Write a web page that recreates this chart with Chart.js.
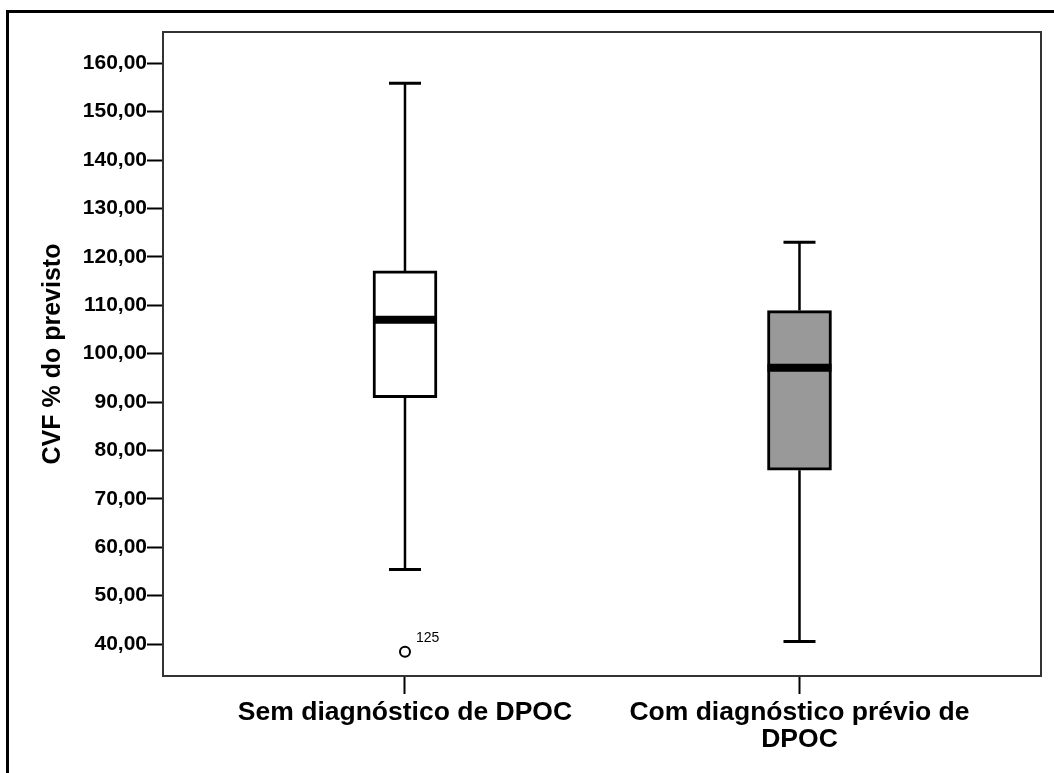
<!DOCTYPE html>
<html>
<head>
<meta charset="utf-8">
<script src="https://cdn.jsdelivr.net/npm/chart.js@4/dist/chart.umd.min.js"></script>
<style>
  html, body { margin: 0; padding: 0; background: #ffffff; }
  #wrap { width: 1054px; height: 773px; position: relative; background: #ffffff; }
</style>
</head>
<body>
<div id="wrap"><canvas id="c"></canvas></div>
<script>
// ---- Data ----
const categories = ['Sem diagnóstico de DPOC', ['Com diagnóstico prévio de', 'DPOC']];
const whiskerLow  = [55.4, 40.5];
const q1          = [90.9, 75.9];
const median      = [107.0, 97.1];
const q3          = [117.1, 108.9];
const whiskerHigh = [155.9, 123.0];
const boxColors   = ['#ffffff', '#999999'];
const outlierGroup = [0];
const outlierValue = [38.4];
const outlierId    = ['125'];
const yTickStep = 10;
const yTickMin = 40;
const yTickMax = 160;

const FONT = "'Liberation Sans', Arial, sans-serif";

const boxData = categories.map((c, i) => ({ x: i, y: [q1[i], q3[i]] }));
const outlierData = outlierGroup.map((g, i) => ({ x: g, y: outlierValue[i] }));

const boxPlugin = {
  id: 'boxParts',
  afterDatasetsDraw(chart) {
    const ctx = chart.ctx;
    const xs = chart.scales.x, ys = chart.scales.y;
    ctx.save();
    ctx.strokeStyle = '#000';
    categories.forEach((c, i) => {
      const x = xs.getPixelForValue(i);
      const yHi = ys.getPixelForValue(whiskerHigh[i]);
      const yLo = ys.getPixelForValue(whiskerLow[i]);
      const yQ1 = ys.getPixelForValue(q1[i]);
      const yQ3 = ys.getPixelForValue(q3[i]);
      const yMed = ys.getPixelForValue(median[i]);
      // whisker stems
      ctx.lineWidth = 2.5;
      ctx.beginPath();
      ctx.moveTo(x, yQ3); ctx.lineTo(x, yHi);
      ctx.moveTo(x, yQ1); ctx.lineTo(x, yLo);
      ctx.stroke();
      // caps
      ctx.lineWidth = 3;
      ctx.beginPath();
      ctx.moveTo(x - 16, yHi); ctx.lineTo(x + 16, yHi);
      ctx.moveTo(x - 16, yLo); ctx.lineTo(x + 16, yLo);
      ctx.stroke();
      // median
      ctx.lineWidth = 8;
      ctx.beginPath();
      ctx.moveTo(x - 32, yMed); ctx.lineTo(x + 32, yMed);
      ctx.stroke();
    });
    // outlier labels
    ctx.fillStyle = '#000';
    ctx.font = '14px ' + FONT;
    ctx.textAlign = 'left';
    ctx.textBaseline = 'alphabetic';
    outlierGroup.forEach((g, i) => {
      const x = xs.getPixelForValue(g);
      const y = ys.getPixelForValue(outlierValue[i]);
      ctx.fillText(outlierId[i], x + 11, y - 10);
    });
    ctx.restore();
  },
  afterDraw(chart) {
    const ctx = chart.ctx;
    const a = chart.chartArea;
    ctx.save();
    ctx.strokeStyle = '#333';
    ctx.lineWidth = 2;
    ctx.strokeRect(a.left, a.top, a.right - a.left, a.bottom - a.top);
    // outer frame (cropped on right/bottom in the reference)
    ctx.strokeStyle = '#000';
    ctx.lineWidth = 3;
    ctx.strokeRect(7.5, 11.5, 1200, 1000);
    ctx.restore();
  }
};

new Chart(document.getElementById('c'), {
  type: 'bar',
  data: {
    datasets: [
      {
        type: 'bar',
        data: boxData,
        backgroundColor: boxColors,
        borderColor: '#000',
        borderWidth: 3,
        borderSkipped: false,
        barThickness: 64,
        order: 2
      },
      {
        type: 'scatter',
        data: outlierData,
        pointStyle: 'circle',
        pointRadius: 5,
        pointBorderWidth: 2,
        pointBackgroundColor: '#fff',
        pointBorderColor: '#000',
        order: 1
      }
    ]
  },
  options: {
    responsive: true,
    maintainAspectRatio: false,
    animation: false,
    devicePixelRatio: 1,
    layout: { padding: { top: 32, left: 0, right: 13, bottom: 0 } },
    plugins: { legend: { display: false }, tooltip: { enabled: false } },
    scales: {
      x: {
        type: 'linear',
        offset: false,
        min: -0.6134,
        max: 1.6122,
        afterBuildTicks(scale) { scale.ticks = categories.map((c, i) => ({ value: i })); },
        afterFit(scale) { scale.height = 97; },
        border: { display: false },
        grid: { offset: false, drawOnChartArea: false, drawTicks: true, tickLength: 18, tickColor: '#000', tickWidth: 2 },
        ticks: {
          autoSkip: false, maxRotation: 0, minRotation: 0, padding: 5,
          color: '#000',
          font: { family: FONT, size: 26.5, weight: 'bold', lineHeight: 1.02 },
          callback(v) { return categories[v]; }
        }
      },
      y: {
        type: 'linear',
        min: 33.39,
        max: 166.47,
        afterBuildTicks(scale) {
          const t = [];
          for (let v = yTickMin; v <= yTickMax; v += yTickStep) t.push({ value: v });
          scale.ticks = t;
        },
        afterFit(scale) { scale.width = 163; },
        border: { display: false },
        grid: { drawOnChartArea: false, drawTicks: true, tickLength: 16, tickColor: '#000', tickWidth: 2 },
        ticks: {
          padding: 0,
          color: '#000',
          font: { family: FONT, size: 21, weight: 'bold' },
          callback(v) { return v.toFixed(2).replace('.', ','); }
        },
        title: {
          display: true,
          text: 'CVF % do previsto',
          color: '#000',
          font: { family: FONT, size: 25, weight: 'bold', lineHeight: 1.2 },
          padding: { top: 38, bottom: 0 }
        }
      }
    }
  },
  plugins: [boxPlugin]
});
</script>
</body>
</html>
